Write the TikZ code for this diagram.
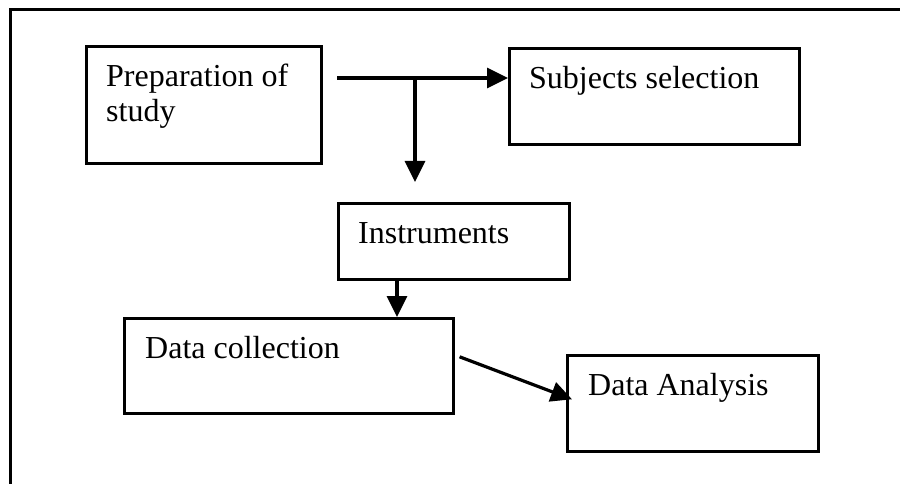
\documentclass[tikz,border=0pt]{standalone}
\usepackage{fontspec}
\setmainfont{Liberation Serif}
\usetikzlibrary{positioning,arrows.meta}

\tikzset{
  stage/.style={draw, line width=2.6pt, anchor=north west, inner sep=0pt},
  stagetext/.style={anchor=north west, inner sep=0pt, align=left, font=\fontsize{32}{35}\selectfont},
  flow/.style={line width=3.2pt, -{Triangle[length=21pt,width=20pt]}}
}

\begin{document}
\begin{tikzpicture}[x=1pt, y=-1pt]
\clip (0,0) rectangle (900,484);
% frame of the page
\draw[line width=3pt] (10,500) -- (10,10) -- (910,10);

\node[stage, minimum width=235pt, minimum height=117pt] (prep) at (85,45) {};
\node[stage, minimum width=290pt, minimum height=96pt] (subj) at (508,47) {};
\node[stage, minimum width=231pt, minimum height=76pt] (instr) at (337,202) {};
\node[stage, minimum width=329pt, minimum height=95pt] (collect) at (123,317) {};
\node[stage, minimum width=251pt, minimum height=96pt] (analysis) at (566,354) {};

\node[stagetext, below right=19pt and 21pt of prep.north west] (preplabel) {Preparation of\\study};
\node[stagetext, below right=19pt and 21pt of subj.north west] (subjlabel) {Subjects selection};
\node[stagetext, below right=20pt and 21pt of instr.north west] (instrlabel) {Instruments};
\node[stagetext, below right=19pt and 22pt of collect.north west] (collectlabel) {Data collection};
\node[stagetext, below right=19pt and 22pt of analysis.north west] (analysislabel) {Data Analysis};

\coordinate (split) at (337,78);
\coordinate (fork) at (415,78);
\coordinate (forkend) at (415,182);
\draw[flow] (split) -- (split -| subj.west);
\draw[flow] (fork) -- (forkend);
\draw[flow] ([xshift=60pt]instr.south west) -- ([xshift=60pt]instr.south west |- collect.north);
\draw[flow] ([xshift=5pt,yshift=9pt]collect.east) -- ([xshift=6pt,yshift=4pt]analysis.west);
\end{tikzpicture}
\end{document}
